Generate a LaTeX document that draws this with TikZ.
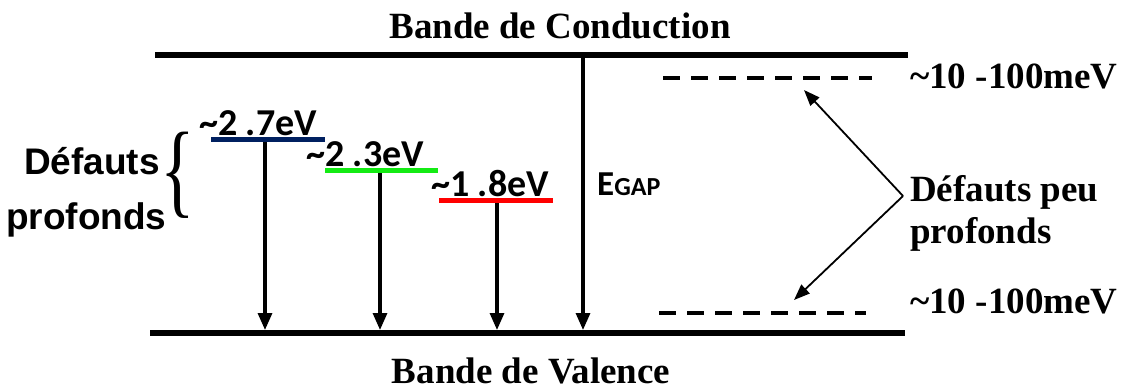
\documentclass[tikz,border=0pt]{standalone}
\usepackage{fontspec}
\usepackage{graphicx}
\setmainfont{Liberation Serif}
\newfontfamily\arialf{Liberation Sans}
\newfontfamily\calf{Carlito}
\usetikzlibrary{arrows.meta}
\definecolor{navyblue}{RGB}{0,32,96}
\definecolor{lvlgreen}{RGB}{20,235,20}
\definecolor{lvlred}{RGB}{255,0,0}
\tikzset{
  band/.style={line width=6pt},
  level/.style={line width=5pt},
  trans/.style={line width=3.2pt,-{Triangle[length=17pt,width=14pt]}},
  pointer/.style={line width=1.8pt,-{Triangle[length=16pt,width=12pt]}},
  shallow/.style={line width=4pt,dash pattern=on 17pt off 11pt},
  tnr/.style={font=\fontsize{37}{42}\selectfont\bfseries, inner sep=0pt},
  cal/.style={font=\calf\fontsize{38}{42}\selectfont\bfseries, inner sep=0pt},
  ari/.style={font=\arialf\fontsize{37}{42}\selectfont\bfseries, inner sep=0pt}
}
\begin{document}
\begin{tikzpicture}[x=1pt,y=-1pt]
\useasboundingbox (0,0) rectangle (1123,391);
% bands
\coordinate (CBl) at (155,55);
\coordinate (CBr) at (908,55);
\coordinate (VBl) at (150,333);
\coordinate (VBr) at (905,333);
\draw[band] (CBl) -- (CBr);
\draw[band] (VBl) -- (VBr);
\node[tnr, anchor=base] (tCB) at (560,38) {Bande de Conduction};
\node[tnr, anchor=base] (tVB) at (531,383) {Bande de Valence};
% deep levels
\coordinate (B1) at (211,139); \coordinate (B2) at (325,139);
\coordinate (G1) at (325,170); \coordinate (G2) at (438,170);
\coordinate (R1) at (439,200); \coordinate (R2) at (553,200);
\draw[level, navyblue] (B1) -- (B2);
\draw[level, lvlgreen] (G1) -- (G2);
\draw[level, lvlred] (R1) -- (R2);
\node[cal, anchor=base west] (l27) at (199,135) {\textasciitilde2 .7eV};
\node[cal, anchor=base west] (l23) at (306,166) {\textasciitilde2 .3eV};
\node[cal, anchor=base west] (l18) at (431,196) {\textasciitilde1 .8eV};
% transitions
\coordinate (a1) at (265,142); \coordinate (a2) at (380,173);
\coordinate (a3) at (497,203); \coordinate (a4) at (583,58);
\coordinate (VBtop) at (0,330);
\draw[trans] (a1) -- (a1 |- VBtop);
\draw[trans] (a2) -- (a2 |- VBtop);
\draw[trans] (a3) -- (a3 |- VBtop);
\draw[trans] (a4) -- (a4 |- VBtop);
\node[inner sep=0pt, anchor=base west] (egap) at (597,195)
  {\calf\bfseries\fontsize{35}{38}\selectfont E\fontsize{26}{28}\selectfont GAP};
% deep defects label
\node[ari, anchor=base west] (dp1) at (24,174) {Défauts};
\node[ari, anchor=base west] (dp2) at (6,229) {profonds};
\node[inner sep=0pt] (brace) at (178,175)
  {\scalebox{1}[1.45]{\fontsize{72}{72}\selectfont\{}};
% shallow levels
\coordinate (S1) at (663,78); \coordinate (S2) at (872,78);
\coordinate (S3) at (659,313); \coordinate (S4) at (866,313);
\draw[shallow] (S1) -- (S2);
\draw[shallow] (S3) -- (S4);
\node[tnr, anchor=base west] (m1) at (910,88) {\textasciitilde10 -100meV};
\node[tnr, anchor=base west] (m2) at (910,313) {\textasciitilde10 -100meV};
\node[tnr, anchor=base west] (dpp1) at (910,201) {Défauts peu};
\node[tnr, anchor=base west] (dpp2) at (910,243) {profonds};
\coordinate (apex) at (903,196);
\coordinate (tipU) at (804,90);
\coordinate (tipD) at (794,300);
\draw[pointer] (apex) -- (tipU);
\draw[pointer] (apex) -- (tipD);
\end{tikzpicture}
\end{document}
